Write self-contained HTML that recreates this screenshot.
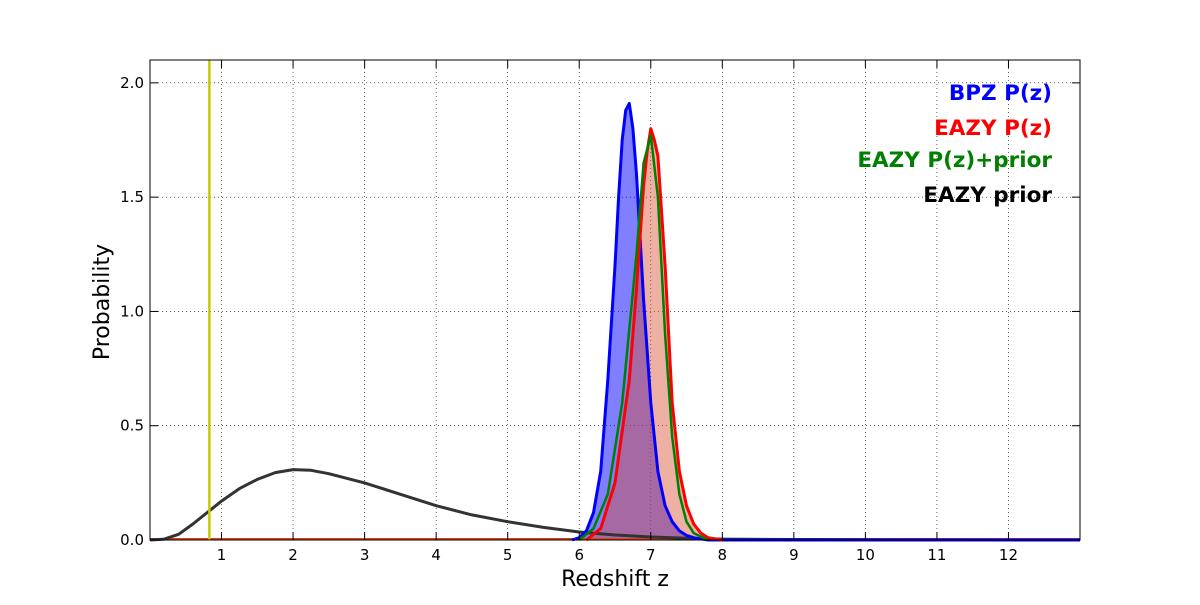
<!DOCTYPE html>
<html><head><meta charset="utf-8"><style>
body{margin:0;background:#fff}
svg text{font-family:"DejaVu Sans","Liberation Sans",sans-serif}
</style></head><body>
<svg id="chart" width="1200" height="600" xmlns="http://www.w3.org/2000/svg">
<rect width="1200" height="600" fill="#fff"/>
<g id="grid"></g>
<g id="marks"></g>
<rect x="150" y="60" width="930" height="480" fill="none" stroke="#000" stroke-width="1"/>
<g id="ticks"></g>
<text x="615" y="586" font-size="22" text-anchor="middle">Redshift z</text>
<text transform="translate(109,302) rotate(-90)" font-size="22" text-anchor="middle">Probability</text>
<g font-size="21.5" font-weight="bold" text-anchor="end">
<text x="1052" y="100" fill="#0000ff">BPZ P(z)</text>
<text x="1052" y="135" fill="#ff0000">EAZY P(z)</text>
<text x="1052" y="167" fill="#008000">EAZY P(z)+prior</text>
<text x="1052" y="202" fill="#000">EAZY prior</text>
</g>
</svg>
<script>
const xTicks=[1,2,3,4,5,6,7,8,9,10,11,12];
const yTicks=[0.0,0.5,1.0,1.5,2.0];
const bpzZ=[5.9,6.0,6.1,6.2,6.3,6.4,6.5,6.55,6.6,6.65,6.7,6.75,6.8,6.9,7.0,7.1,7.2,7.3,7.4,7.5,7.6,7.8];
const bpzP=[0,0.01,0.04,0.12,0.3,0.7,1.2,1.5,1.75,1.88,1.91,1.8,1.6,1.05,0.6,0.3,0.15,0.08,0.04,0.02,0.01,0];
const eazyZ=[6.1,6.3,6.5,6.7,6.8,6.9,6.95,7.0,7.05,7.1,7.2,7.3,7.4,7.5,7.6,7.7,7.8,8.0];
const eazyP=[0,0.05,0.25,0.7,1.1,1.55,1.7,1.8,1.75,1.68,1.2,0.6,0.3,0.15,0.07,0.03,0.01,0];
const combZ=[6.0,6.2,6.4,6.6,6.8,6.9,7.0,7.1,7.2,7.3,7.4,7.5,7.6,7.8];
const combP=[0,0.05,0.2,0.6,1.25,1.65,1.77,1.5,0.9,0.45,0.2,0.08,0.03,0];
const priorZ=[0,0.2,0.4,0.6,0.8,1,1.25,1.5,1.75,2,2.25,2.5,3,3.5,4,4.5,5,5.5,6,6.5,7,7.5,8,9,10,13];
const priorP=[0,0.004,0.025,0.07,0.12,0.17,0.225,0.265,0.295,0.308,0.305,0.29,0.25,0.2,0.15,0.11,0.08,0.055,0.035,0.022,0.013,0.008,0.004,0.002,0.001,0];
const vlineZ=0.83;
const NS="http://www.w3.org/2000/svg";
const X=z=>150+z*(930/13), Y=p=>540-p*(480/2.1);
function mk(t,a,par){const e=document.createElementNS(NS,t);for(const k in a)e.setAttribute(k,a[k]);document.getElementById(par).appendChild(e);return e;}
xTicks.forEach(t=>{
 const g=mk('line',{x1:X(t),x2:X(t),y1:60,y2:540,stroke:'#000','stroke-width':0.6,'stroke-dasharray':'1,3'},'grid');
 
 const a=mk('line',{x1:X(t),x2:X(t),y1:540,y2:532,stroke:'#000'},'ticks');
 
 const b=mk('line',{x1:X(t),x2:X(t),y1:60,y2:68,stroke:'#000'},'ticks');
 
 const l=mk('text',{x:X(t),y:560,'font-size':15,'text-anchor':'middle'},'ticks');l.textContent=t;
 
});
yTicks.forEach(t=>{
 const g=mk('line',{x1:150,x2:1080,y1:Y(t),y2:Y(t),stroke:'#000','stroke-width':0.6,'stroke-dasharray':'1,3'},'grid');
 
 const a=mk('line',{x1:150,x2:158,y1:Y(t),y2:Y(t),stroke:'#000'},'ticks');
 
 const b=mk('line',{x1:1072,x2:1080,y1:Y(t),y2:Y(t),stroke:'#000'},'ticks');
 
 const l=mk('text',{x:144,y:Y(t)+5,'font-size':15,'text-anchor':'end'},'ticks');l.textContent=t.toFixed(1);
 
});
function pts(zs,ps){return zs.map((z,i)=>X(z).toFixed(1)+','+Y(ps[i]).toFixed(1)).join(' ');}
function area(zs,ps,fill,name){const e=mk('polygon',{points:X(zs[0])+','+Y(0)+' '+pts(zs,ps)+' '+X(zs[zs.length-1])+','+Y(0),fill:fill,stroke:'none'},'marks');
 }
function line(zs,ps,col,w,name){const e=mk('polyline',{points:pts(zs,ps),fill:'none',stroke:col,'stroke-width':w,'stroke-linejoin':'round'},'marks');
 }
area(bpzZ,bpzP,'rgba(0,0,255,0.5)','bpz-area');
area(eazyZ,eazyP,'rgba(215,80,50,0.45)','eazy-area');
const base=mk('line',{x1:150,x2:1080,y1:Y(0)-1,y2:Y(0)-1,stroke:'#e04020','stroke-width':2},'marks');

line(priorZ,priorP,'#333',3,'eazy-prior-line');
line(bpzZ.concat([13]),bpzP.concat([0]),'#0000ff',3,'bpz-line');
line(eazyZ,eazyP,'#ff0000',3,'eazy-line');
line(combZ,combP,'#008000',2.5,'eazy-prior-combined-line');
const v=mk('line',{x1:X(vlineZ),x2:X(vlineZ),y1:60,y2:540,stroke:'#c8c800','stroke-width':2.5},'marks');

</script>
</body></html>
